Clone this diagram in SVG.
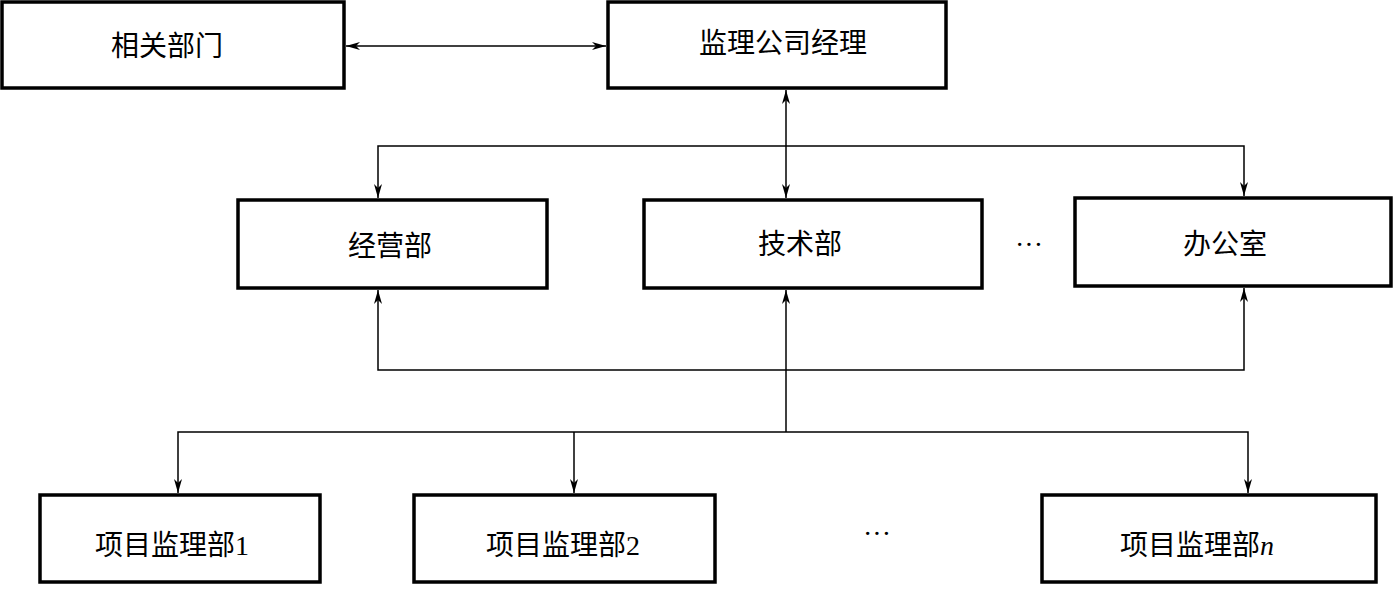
<svg xmlns="http://www.w3.org/2000/svg" width="1395" height="596" viewBox="0 0 1395 596">
<style>
.box{fill:#fff;stroke:#000;stroke-width:3.5}
.lbl{font-family:"Liberation Serif","Noto Sans CJK SC",serif;font-size:28px;fill:#000;text-anchor:middle;dominant-baseline:central}
.ln{fill:none;stroke:#000;stroke-width:1.5}
</style>
<defs>
<marker id="ah" viewBox="0 0 14 8" refX="14" refY="4" markerWidth="14" markerHeight="8" markerUnits="userSpaceOnUse" orient="auto-start-reverse">
<path d="M0,0 L14,4 L0,8 L4,4 Z" fill="#000"/>
</marker>
</defs>
<rect width="1395" height="596" fill="#fff"/>
<g id="connectors">
<line class="ln" x1="346" y1="46" x2="606" y2="46" marker-start="url(#ah)" marker-end="url(#ah)"/>
<line class="ln" x1="786" y1="90" x2="786" y2="198" marker-start="url(#ah)" marker-end="url(#ah)"/>
<polyline class="ln" points="378,198 378,146 1244,146 1244,196" marker-start="url(#ah)" marker-end="url(#ah)"/>
<polyline class="ln" points="378,290 378,370 1244,370 1244,288" marker-start="url(#ah)" marker-end="url(#ah)"/>
<line class="ln" x1="786" y1="432" x2="786" y2="290" marker-end="url(#ah)"/>
<polyline class="ln" points="178,493 178,432 1248,432 1248,493" marker-start="url(#ah)" marker-end="url(#ah)"/>
<line class="ln" x1="574" y1="432" x2="574" y2="493" marker-end="url(#ah)"/>
</g>
<g id="n-xiangguan"><rect class="box" x="2" y="2" width="342" height="86"/><text class="lbl" x="167" y="46">相关部门</text></g>
<g id="n-jingli"><rect class="box" x="608" y="2" width="338" height="86"/><text class="lbl" x="783" y="43">监理公司经理</text></g>
<g id="n-jingying"><rect class="box" x="238" y="200" width="309" height="88"/><text class="lbl" x="390" y="246">经营部</text></g>
<g id="n-jishu"><rect class="box" x="644" y="200" width="338" height="88"/><text class="lbl" x="800" y="244">技术部</text></g>
<g id="dots1"><text class="lbl" x="1029" y="244">···</text></g>
<g id="n-bangong"><rect class="box" x="1075" y="198" width="316" height="88"/><text class="lbl" x="1225" y="244">办公室</text></g>
<g id="n-xm1"><rect class="box" x="40" y="495" width="280" height="87"/><text class="lbl" x="172" y="545">项目监理部1</text></g>
<g id="n-xm2"><rect class="box" x="414" y="495" width="301" height="87"/><text class="lbl" x="563" y="545">项目监理部2</text></g>
<g id="dots2"><text class="lbl" x="877" y="533">···</text></g>
<g id="n-xmn"><rect class="box" x="1042" y="495" width="334" height="87"/><text class="lbl" x="1197" y="545">项目监理部<tspan font-style="italic">n</tspan></text></g>
</svg>
